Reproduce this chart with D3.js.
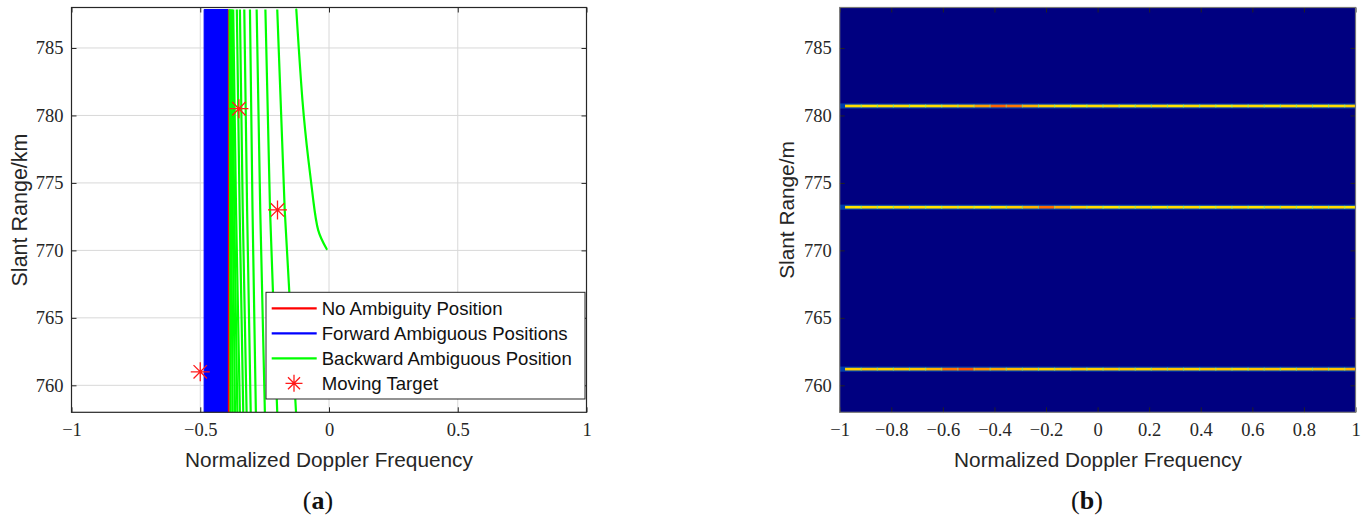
<!DOCTYPE html>
<html>
<head>
<meta charset="utf-8">
<script src="https://cdn.jsdelivr.net/npm/d3@7"></script>
<style>
  html, body { margin: 0; padding: 0; background: #fff; }
  svg { display: block; }
</style>
</head>
<body>
<svg id="fig" width="1371" height="517"></svg>
<script>
// ---------------- data ----------------
const dopplerTicksA = [-1, -0.5, 0, 0.5, 1];
const dopplerTicksB = [-1, -0.8, -0.6, -0.4, -0.2, 0, 0.2, 0.4, 0.6, 0.8, 1];
const rangeTicks = [760, 765, 770, 775, 780, 785];

// (a) no-ambiguity position: slant range (km) vs normalized Doppler
const noAmbRange = [787.85, 758];
const noAmbDoppler = [-0.389, -0.389];

// (a) forward ambiguous positions, dense family bounded left/right
const forwardRange = [787.85, 758];
const forwardLeft = [-0.485, -0.485];
const forwardRight = [-0.392, -0.392];

// (a) backward ambiguous positions, Doppler at each listed range
const backwardRange = [787.85, 773, 758];
const backwardDoppler = [
  [-0.386, -0.384, -0.382],
  [-0.384, -0.380, -0.374],
  [-0.381, -0.374, -0.365],
  [-0.377, -0.368, -0.356],
  [-0.372, -0.361, -0.346],
  [-0.358, -0.347, -0.333],
  [-0.346, -0.335, -0.320],
  [-0.329, -0.318, -0.304],
  [-0.307, -0.297, -0.284],
  [-0.281, -0.267, -0.249],
  [-0.247, -0.229, -0.201],
  [-0.201, -0.172, -0.128]
];
// the last backward branch bends over and ends near 770 km
const backwardBendRange = [787.85, 781.1, 776.7, 773.7, 771.5, 770.1];
const backwardBendDoppler = [-0.127, -0.103, -0.080, -0.061, -0.042, -0.009];

// moving targets
const targetDoppler = [-0.35, -0.2, -0.5];
const targetRange = [780.5, 773.0, 761.0];

// (b) focused strips: range (m) of each strip and normalized level per Doppler bin
const stripRange = [780.7, 773.2, 761.2];
const binWidth = 0.0625;
const firstBinCenter = -0.948;
const stripLevels = [
  [0.66,0.65,0.66,0.66,0.65,0.66,0.67,0.68,0.72,0.78,0.76,0.70,0.67,0.66,0.65,0.66,0.66,0.65,0.66,0.66,0.65,0.66,0.66,0.65,0.66,0.66,0.65,0.66,0.66,0.65,0.66,0.67,0.67],
  [0.65,0.66,0.65,0.66,0.66,0.65,0.66,0.66,0.65,0.66,0.67,0.70,0.77,0.71,0.67,0.66,0.65,0.66,0.66,0.65,0.66,0.66,0.65,0.66,0.66,0.65,0.66,0.66,0.65,0.66,0.66,0.65,0.66],
  [0.67,0.68,0.67,0.68,0.68,0.70,0.76,0.79,0.73,0.71,0.69,0.68,0.67,0.68,0.68,0.67,0.68,0.68,0.67,0.68,0.68,0.67,0.68,0.68,0.67,0.68,0.68,0.67,0.68,0.69,0.68,0.70,0.70]
];
const seamLevel = 0.45;

// ---------------- layout ----------------
const svg = d3.select("#fig");
const ink = "#262626";
const sansFont = "'Liberation Sans', Arial, sans-serif";
const serifFont = "'Liberation Serif', 'Times New Roman', serif";

const plotTop = 7.5, plotBottom = 412.3;
const y = d3.scaleLinear().domain([758, 788]).range([plotBottom, plotTop]);
const xA = d3.scaleLinear().domain([-1, 1]).range([71.5, 586.5]);
const xB = d3.scaleLinear().domain([-1, 1]).range([839.7, 1355.5]);

const jet = d3.scaleLinear()
  .domain([0, 0.125, 0.375, 0.625, 0.875, 1])
  .range(["#000080", "#0000ff", "#00ffff", "#ffff00", "#ff0000", "#800000"])
  .clamp(true);

svg.append("rect").attr("width", 1371).attr("height", 517).attr("fill", "#fff");

const defs = svg.append("defs");
defs.append("clipPath").attr("id", "clipA").append("rect")
  .attr("x", xA(-1)).attr("y", plotTop).attr("width", xA(1) - xA(-1)).attr("height", plotBottom - plotTop);
defs.append("clipPath").attr("id", "clipB").append("rect")
  .attr("x", xB(-1)).attr("y", plotTop).attr("width", xB(1) - xB(-1)).attr("height", plotBottom - plotTop);

function styleTicks(g, fontSize) {
  g.select(".domain").remove();
  g.selectAll(".tick line").attr("stroke", ink).attr("stroke-width", 1);
  g.selectAll(".tick text").attr("fill", ink).attr("font-family", serifFont).attr("font-size", fontSize);
}

function drawGrid(x, ticksX) {
  const grid = svg.append("g").attr("stroke", "#d8d8d8").attr("stroke-width", 1);
  grid.selectAll(".gx").data(ticksX).join("line")
    .attr("x1", d => x(d)).attr("x2", d => x(d)).attr("y1", plotTop).attr("y2", plotBottom);
  grid.selectAll(".gy").data(rangeTicks).join("line")
    .attr("x1", x.range()[0]).attr("x2", x.range()[1]).attr("y1", d => y(d)).attr("y2", d => y(d));
}

function drawAxesDecor(x, ticksX, frameColor, tickColor) {
  const g = svg.append("g");
  const fmt = d => d3.format("")(d).replace("-", "\u2212");
  const bx = g.append("g").attr("transform", `translate(0,${plotBottom})`)
    .call(d3.axisBottom(x).tickValues(ticksX).tickSize(-5).tickPadding(11).tickFormat(fmt));
  styleTicks(bx, 18.5);
  const tx = g.append("g").attr("transform", `translate(0,${plotTop})`)
    .call(d3.axisTop(x).tickValues(ticksX).tickSize(-5).tickFormat(""));
  styleTicks(tx, 18.5);
  const ly = g.append("g").attr("transform", `translate(${x.range()[0]},0)`)
    .call(d3.axisLeft(y).tickValues(rangeTicks).tickSize(-5).tickPadding(8).tickFormat(d3.format("")));
  styleTicks(ly, 18.5);
  const ry = g.append("g").attr("transform", `translate(${x.range()[1]},0)`)
    .call(d3.axisRight(y).tickValues(rangeTicks).tickSize(-5).tickFormat(""));
  styleTicks(ry, 18.5);
  g.selectAll(".tick line").attr("stroke", tickColor);
  g.append("rect")
    .attr("x", x.range()[0]).attr("y", plotTop)
    .attr("width", x.range()[1] - x.range()[0]).attr("height", plotBottom - plotTop)
    .attr("fill", "none").attr("stroke", frameColor).attr("stroke-width", 1.2);
}

// asterisk marker path centred on (0,0)
function asterisk(r) {
  const d = r * Math.SQRT1_2;
  return `M${-r},0L${r},0M0,${-r}L0,${r}M${-d},${-d}L${d},${d}M${-d},${d}L${d},${-d}`;
}

// ================= (a) =================
drawGrid(xA, dopplerTicksA);
const plotA = svg.append("g").attr("clip-path", "url(#clipA)");

const fwdData = forwardRange.map((r, i) => ({ r, l: forwardLeft[i], rt: forwardRight[i] }));
plotA.append("path")
  .datum(fwdData)
  .attr("fill", "#0000ff")
  .attr("stroke", "#0000ff")
  .attr("stroke-width", 1)
  .attr("d", d3.area().y(d => y(d.r)).x0(d => xA(d.l)).x1(d => xA(d.rt)));

const lineA = d3.line().x(d => xA(d[0])).y(d => y(d[1]));
plotA.append("path")
  .datum(noAmbRange.map((r, i) => [noAmbDoppler[i], r]))
  .attr("fill", "none").attr("stroke", "#ff0000").attr("stroke-width", 2)
  .attr("d", lineA);

const curveA = d3.line().x(d => xA(d[0])).y(d => y(d[1])).curve(d3.curveNatural);
plotA.selectAll(".bwd")
  .data(backwardDoppler.map(row => row.map((dop, i) => [dop, backwardRange[i]])))
  .join("path")
  .attr("fill", "none").attr("stroke", "#00ff00").attr("stroke-width", 2.2)
  .attr("d", curveA);
plotA.append("path")
  .datum(backwardBendDoppler.map((dop, i) => [dop, backwardBendRange[i]]))
  .attr("fill", "none").attr("stroke", "#00ff00").attr("stroke-width", 2.2)
  .attr("stroke-linecap", "round")
  .attr("d", curveA);

plotA.selectAll(".tgt")
  .data(targetDoppler.map((dop, i) => [dop, targetRange[i]]))
  .join("path")
  .attr("transform", d => `translate(${xA(d[0])},${y(d[1])})`)
  .attr("d", asterisk(9.5))
  .attr("fill", "none").attr("stroke", "#ff1a1a").attr("stroke-width", 1.3);

drawAxesDecor(xA, dopplerTicksA, ink, ink);

// legend
const legendItems = [
  { label: "No Ambiguity Position", kind: "line", color: "#ff0000" },
  { label: "Forward Ambiguous Positions", kind: "line", color: "#0000ff" },
  { label: "Backward Ambiguous Position", kind: "line", color: "#00ff00" },
  { label: "Moving Target", kind: "mark", color: "#ff1a1a" }
];
const leg = svg.append("g").attr("transform", "translate(266,292.3)");
leg.append("rect").attr("width", 319).attr("height", 106.7)
  .attr("fill", "#fff").attr("stroke", ink).attr("stroke-width", 1);
const rows = leg.selectAll(".row").data(legendItems).join("g")
  .attr("transform", (d, i) => `translate(0,${16 + i * 25})`);
rows.filter(d => d.kind === "line").append("line")
  .attr("x1", 5.7).attr("x2", 50.7).attr("y1", 0).attr("y2", 0)
  .attr("stroke", d => d.color).attr("stroke-width", 2.2);
rows.filter(d => d.kind === "mark").append("path")
  .attr("transform", "translate(28,0)")
  .attr("d", asterisk(8.5))
  .attr("fill", "none").attr("stroke", d => d.color).attr("stroke-width", 1.3);
rows.append("text")
  .attr("x", 55.7).attr("y", 6.7)
  .attr("font-family", sansFont).attr("font-size", 18.6).attr("fill", "#111")
  .text(d => d.label);

// axis titles (a)
svg.append("text")
  .attr("x", 329).attr("y", 467)
  .attr("text-anchor", "middle")
  .attr("font-family", sansFont).attr("font-size", 20.8).attr("fill", ink)
  .text("Normalized Doppler Frequency");
svg.append("text")
  .attr("transform", "translate(26.5,210) rotate(-90)")
  .attr("text-anchor", "middle")
  .attr("font-family", sansFont).attr("font-size", 21.5).attr("fill", ink)
  .text("Slant Range/km");

// ================= (b) =================
const plotB = svg.append("g").attr("clip-path", "url(#clipB)");
plotB.append("rect")
  .attr("x", xB(-1)).attr("y", y(788))
  .attr("width", xB(1) - xB(-1)).attr("height", y(758) - y(788))
  .attr("fill", jet(0));

const stripHalf = 0.1;
stripLevels.forEach((levels, s) => {
  const r = stripRange[s];
  const cells = levels.map((v, k) => ({ c: firstBinCenter + k * binWidth, v }));
  const g = plotB.append("g");
  // faint halo around each strip
  g.append("rect")
    .attr("x", xB(-1)).attr("width", xB(1) - xB(-1))
    .attr("y", y(r + stripHalf * 1.9)).attr("height", y(r - stripHalf * 1.9) - y(r + stripHalf * 1.9))
    .attr("fill", jet(0.3)).attr("opacity", 0.35);
  g.selectAll(".cell").data(cells).join("rect")
    .attr("x", d => xB(d.c - binWidth / 2))
    .attr("width", d => xB(d.c + binWidth / 2) - xB(d.c - binWidth / 2) + 0.3)
    .attr("y", y(r + stripHalf))
    .attr("height", y(r - stripHalf) - y(r + stripHalf))
    .attr("fill", d => jet(d.v));
  // seams between Doppler bins
  g.selectAll(".seam").data(cells).join("rect")
    .attr("x", d => xB(d.c + binWidth / 2) - 0.6)
    .attr("width", 1.2)
    .attr("y", y(r + stripHalf))
    .attr("height", y(r - stripHalf) - y(r + stripHalf))
    .attr("fill", jet(seamLevel)).attr("opacity", 0.55);
});

drawAxesDecor(xB, dopplerTicksB, "#777", "#222");

svg.append("text")
  .attr("x", 1098).attr("y", 467)
  .attr("text-anchor", "middle")
  .attr("font-family", sansFont).attr("font-size", 20.8).attr("fill", ink)
  .text("Normalized Doppler Frequency");
svg.append("text")
  .attr("transform", "translate(794,210) rotate(-90)")
  .attr("text-anchor", "middle")
  .attr("font-family", sansFont).attr("font-size", 20.8).attr("fill", ink)
  .text("Slant Range/m");

// sub-figure captions
[["a", 318], ["b", 1087]].forEach(([t, cx]) => {
  const cap = svg.append("text")
    .attr("x", cx).attr("y", 509)
    .attr("text-anchor", "middle")
    .attr("font-family", serifFont).attr("font-size", 26).attr("fill", "#111");
  cap.append("tspan").text("(");
  cap.append("tspan").attr("font-weight", "bold").text(t);
  cap.append("tspan").text(")");
});
</script>
</body>
</html>
